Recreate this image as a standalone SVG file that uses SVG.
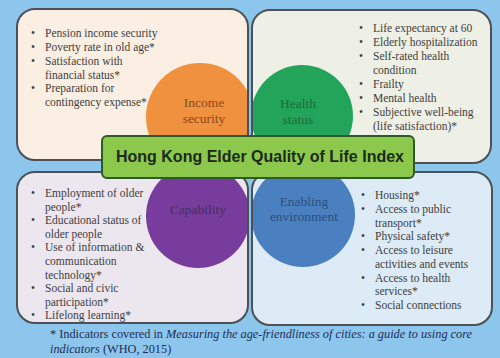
<svg xmlns="http://www.w3.org/2000/svg" width="500" height="358" viewBox="0 0 500 358">
<defs>
<style>
.box{stroke:#4b5157;stroke-width:2}
.li{font-family:"Liberation Serif","Times New Roman",serif;font-size:11.5px;fill:#3e3e3e}
.lbl{font-family:"Liberation Serif","Times New Roman",serif;font-size:13.5px;text-anchor:middle}
.foot{font-family:"Liberation Serif","Times New Roman",serif;font-size:12.3px;fill:#1f2d55}
</style>
<clipPath id="cTL"><rect x="17" y="9" width="231" height="151" rx="18"/></clipPath>
<clipPath id="cTR"><rect x="252" y="10" width="239" height="153" rx="18"/></clipPath>
<clipPath id="cBL"><rect x="17" y="172" width="231" height="151" rx="18"/></clipPath>
<clipPath id="cBR"><rect x="252" y="172" width="240" height="153" rx="18"/></clipPath>
</defs>
<rect width="500" height="358" fill="#8cc6ec"/>

<g id="income-security">
<rect x="17" y="9" width="231" height="151" rx="18" fill="#fbeee3"/>
<circle cx="200" cy="117" r="54" fill="#f0913f" clip-path="url(#cTL)"/>
<rect class="box" x="17" y="9" width="231" height="151" rx="18" fill="none"/>
<text class="lbl" fill="#8a4a22"><tspan x="204" y="107">Income</tspan><tspan x="204" y="123">security</tspan></text>
<g class="li">
<text x="31" y="37">•</text><text x="45" y="37">Pension income security</text>
<text x="31" y="51">•</text><text x="45" y="51">Poverty rate in old age*</text>
<text x="31" y="65">•</text><text x="45" y="65">Satisfaction with</text>
<text x="45" y="78.5">financial status*</text>
<text x="31" y="92">•</text><text x="45" y="92">Preparation for</text>
<text x="45" y="106">contingency expense*</text>
</g>
</g>

<g id="health-status">
<rect x="252" y="10" width="239" height="153" rx="18" fill="#eef0e5"/>
<circle cx="302" cy="116" r="51" fill="#22a55a" clip-path="url(#cTR)"/>
<rect class="box" x="252" y="10" width="239" height="153" rx="18" fill="none"/>
<text class="lbl" fill="#1d6b3b"><tspan x="298" y="108">Health</tspan><tspan x="298" y="124">status</tspan></text>
<g class="li">
<text x="359" y="32">•</text><text x="373" y="32">Life expectancy at 60</text>
<text x="359" y="46">•</text><text x="373" y="46">Elderly hospitalization</text>
<text x="359" y="60">•</text><text x="373" y="60">Self-rated health</text>
<text x="373" y="74">condition</text>
<text x="359" y="88">•</text><text x="373" y="88">Frailty</text>
<text x="359" y="102">•</text><text x="373" y="102">Mental health</text>
<text x="359" y="116">•</text><text x="373" y="116">Subjective well-being</text>
<text x="373" y="130">(life satisfaction)*</text>
</g>
</g>

<g id="capability">
<rect x="17" y="172" width="231" height="151" rx="18" fill="#ece6ef"/>
<circle cx="198" cy="216" r="52" fill="#773c9c" clip-path="url(#cBL)"/>
<rect class="box" x="17" y="172" width="231" height="151" rx="18" fill="none"/>
<text class="lbl" fill="#45305f" x="198" y="214">Capability</text>
<g class="li">
<text x="31" y="197">•</text><text x="45" y="197">Employment of older</text>
<text x="45" y="210.6">people*</text>
<text x="31" y="224.2">•</text><text x="45" y="224.2">Educational status of</text>
<text x="45" y="237.8">older people</text>
<text x="31" y="251.4">•</text><text x="45" y="251.4">Use of information &amp;</text>
<text x="45" y="265">communication</text>
<text x="45" y="278.6">technology*</text>
<text x="31" y="292.2">•</text><text x="45" y="292.2">Social and civic</text>
<text x="45" y="305.8">participation*</text>
<text x="31" y="319.4">•</text><text x="45" y="319.4">Lifelong learning*</text>
</g>
</g>

<g id="enabling-environment">
<rect x="252" y="172" width="240" height="153" rx="18" fill="#dcebf5"/>
<circle cx="303" cy="215" r="52" fill="#4a80c0" clip-path="url(#cBR)"/>
<rect class="box" x="252" y="172" width="240" height="153" rx="18" fill="none"/>
<text class="lbl" fill="#2e4f7e"><tspan x="304" y="206">Enabling</tspan><tspan x="304" y="221">environment</tspan></text>
<g class="li">
<text x="361" y="199">•</text><text x="375" y="199">Housing*</text>
<text x="361" y="212.75">•</text><text x="375" y="212.75">Access to public</text>
<text x="375" y="226.5">transport*</text>
<text x="361" y="240.25">•</text><text x="375" y="240.25">Physical safety*</text>
<text x="361" y="254">•</text><text x="375" y="254">Access to leisure</text>
<text x="375" y="267.75">activities and events</text>
<text x="361" y="281.5">•</text><text x="375" y="281.5">Access to health</text>
<text x="375" y="295.25">services*</text>
<text x="361" y="309">•</text><text x="375" y="309">Social connections</text>
</g>
</g>

<g id="title">
<rect x="102" y="136" width="312" height="42" rx="5" fill="#8cc84c" stroke="#2e5a2a" stroke-width="2"/>
<text x="260" y="162" text-anchor="middle" font-family="'Liberation Sans',Arial,sans-serif" font-weight="bold" font-size="16" fill="#1c2a1c">Hong Kong Elder Quality of Life Index</text>
</g>

<g id="footnote" class="foot">
<text x="50" y="338">* Indicators covered in <tspan font-style="italic">Measuring the age-friendliness of cities: a guide to using core</tspan></text>
<text x="50" y="353"><tspan font-style="italic">indicators</tspan> (WHO, 2015)</text>
</g>
</svg>
